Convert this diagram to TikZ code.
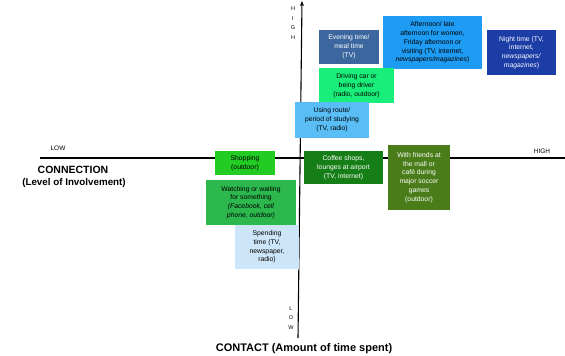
\documentclass[tikz,border=0pt]{standalone}
\usepackage{fontspec}
\setmainfont{Liberation Sans}
\usetikzlibrary{arrows.meta}

\definecolor{steelbox}{HTML}{3B679E}
\definecolor{skybox}{HTML}{1E9BF2}
\definecolor{navybox}{HTML}{1C3CA6}
\definecolor{springbox}{HTML}{1AEE7A}
\definecolor{lightskybox}{HTML}{58BEF5}
\definecolor{limebox}{HTML}{22CC22}
\definecolor{darkgreenbox}{HTML}{167E16}
\definecolor{olivebox}{HTML}{4A7D1A}
\definecolor{midgreenbox}{HTML}{2DB84E}
\definecolor{paleblue}{HTML}{CCE5F8}

\begin{document}
\begin{tikzpicture}[x=1pt,y=-1pt]
\useasboundingbox (0,0) rectangle (565,356);
\begin{scope}
\tikzstyle{every node}=[inner sep=1pt, align=center];
\tikzstyle{slot}=[shape=rectangle, font=\fontsize{6.8}{8.8}\selectfont];
\tikzstyle{axislbl}=[font=\fontsize{6.5}{7}\selectfont];

% axes
\coordinate (xlo) at (40,158);
\coordinate (xhi) at (565,158);
\coordinate (ylo) at (298,338);
\coordinate (yhi) at (302,1);
\draw[line width=1.1pt] (xlo) -- (xhi);
\draw[line width=1.1pt, -{Stealth[length=5pt,width=4pt]}] (ylo) -- (yhi);

% axis labels
\draw (58,148) node[axislbl] (hlow) {LOW};
\draw (542,151) node[axislbl] (hhigh) {HIGH};
\draw (293,23) node[axislbl, font=\fontsize{5.5}{9.5}\selectfont] (vhigh) {H\\I\\G\\H};
\draw (291,318) node[axislbl, font=\fontsize{5.5}{9.5}\selectfont] (vlow) {L\\O\\W};
\draw (73,170) node[font=\bfseries\fontsize{10.5}{11}\selectfont] (conn) {CONNECTION};
\draw (74,183) node[font=\bfseries\fontsize{9.8}{10}\selectfont] (involve) {(Level of Involvement)};
\draw (304,349) node[font=\bfseries\fontsize{11}{12}\selectfont] (contact) {CONTACT (Amount of time spent)};

% moments
\draw (349,47) node[slot, fill=steelbox, text=white, minimum width=60pt, minimum height=34pt] (evening) {Evening time/\\meal time\\(TV)};
\draw (432.5,42.5) node[slot, fill=skybox, minimum width=99pt, minimum height=53pt] (afternoon) {Afternoon/ late\\afternoon for women,\\Friday afternoon or\\visiting (TV, internet,\\\textit{newspapers/magazines})};
\draw (521.5,52.5) node[slot, fill=navybox, text=white, minimum width=69pt, minimum height=45pt] (night) {Night time (TV,\\internet,\\\textit{newspapers/}\\\textit{magazines})};
\draw (356.5,85.5) node[slot, fill=springbox, minimum width=75pt, minimum height=35pt] (driving) {Driving car or\\being driver\\(radio, outdoor)};
\draw (332,120) node[slot, fill=lightskybox, minimum width=74pt, minimum height=36pt] (studying) {Using route/\\period of studying\\(TV, radio)};
\draw (245,163) node[slot, fill=limebox, minimum width=60pt, minimum height=24pt] (shopping) {Shopping\\(outdoor)};
\draw (343.5,167.5) node[slot, fill=darkgreenbox, text=white, minimum width=79pt, minimum height=33pt] (coffee) {Coffee shops,\\lounges at airport\\(TV, internet)};
\draw (419,177.5) node[slot, fill=olivebox, text=white, minimum width=62pt, minimum height=65pt] (friends) {With friends at\\the mall or\\café during\\major soccer\\games\\(outdoor)};
\draw (251,202.5) node[slot, fill=midgreenbox, minimum width=90pt, minimum height=45pt] (waiting) {Watching or waiting\\for something\\\textit{(Facebook, cell}\\\textit{phone, outdoor)}};
\draw (267,247) node[slot, fill=paleblue, minimum width=64pt, minimum height=44pt] (spending) {Spending\\time (TV,\\newspaper,\\radio)};

\end{scope}
\end{tikzpicture}
\end{document}
